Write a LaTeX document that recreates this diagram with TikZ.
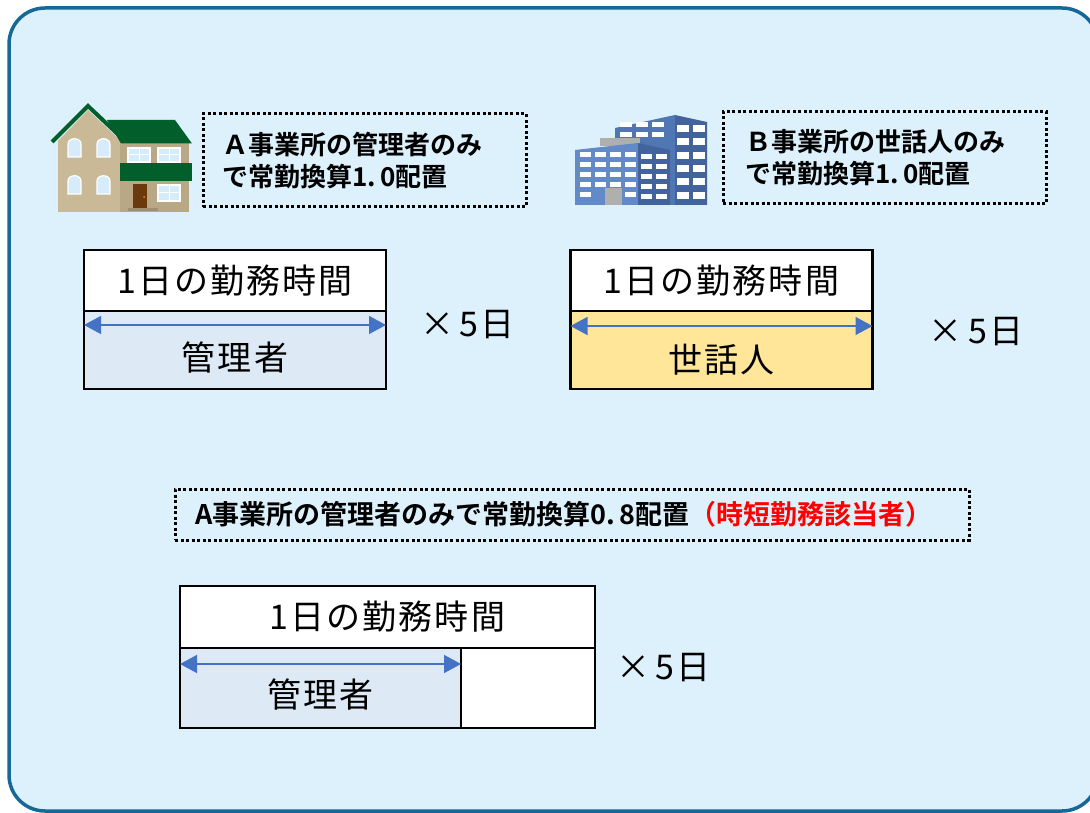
\documentclass[tikz,border=0pt]{standalone}
\usepackage{fontspec}
\setmainfont{Noto Sans CJK JP}[BoldFont={Noto Sans CJK JP Bold}]
\newfontfamily\boxfont{Noto Sans CJK JP}[LetterSpace=6]
\usepackage{xcolor}
\usetikzlibrary{arrows.meta, positioning}

\definecolor{panelfill}{RGB}{220,241,251}
\definecolor{panelline}{RGB}{22,104,150}
\definecolor{mgrfill}{RGB}{221,234,246}
\definecolor{carefill}{RGB}{255,230,153}
\definecolor{spanblue}{RGB}{68,114,196}
\definecolor{roofgreen}{RGB}{2,95,44}
\definecolor{walltan}{RGB}{201,185,150}
\definecolor{walldark}{RGB}{184,168,134}
\definecolor{glassblue}{RGB}{214,236,250}
\definecolor{doorbrown}{RGB}{106,58,14}
\definecolor{bldlight}{RGB}{98,138,200}
\definecolor{blddark}{RGB}{66,99,156}
\definecolor{bldback}{RGB}{80,118,180}
\definecolor{roofgray}{RGB}{175,175,175}

\tikzstyle{panel} = [draw=panelline, fill=panelfill, line width=3.5pt, rounded corners=36pt]
\tikzstyle{notebox} = [rectangle, draw=black, line width=3pt, dash pattern=on 3pt off 2.5pt, font=\bfseries\fontsize{26}{32}\selectfont, align=left]
\tikzstyle{daybox} = [rectangle, draw=black, line width=2.5pt, fill=white, outer sep=0pt, inner sep=0pt, font=\boxfont\fontsize{34}{40}\selectfont]
\tikzstyle{shiftbox} = [rectangle, draw=black, line width=2.5pt, outer sep=0pt, inner sep=0pt]
\tikzstyle{boxtext} = [font=\boxfont\fontsize{34}{40}\selectfont, inner sep=0pt]
\tikzstyle{spanarrow} = [line width=1.5pt, draw=spanblue, >={Triangle[length=17pt, width=18pt]}, <->]
\tikzstyle{pane} = [fill=glassblue, draw=white, line width=1.2pt]
\tikzstyle{bldwin} = [fill=white]

\begin{document}
\begin{tikzpicture}[x=1pt, y=-1pt]

\useasboundingbox (0,0) rectangle (1090,813);
\draw [panel] (9,8) rectangle (1098,811);

% house
\fill [walltan] (58,141) -- (88,110) -- (121,141) -- (121,212) -- (58,212) -- cycle;
\fill [walldark] (120,143) rectangle (189,212);
\fill [roofgreen] (107,120) -- (175,120) -- (192,143.5) -- (121,143.5) -- cycle;
\draw [roofgreen, line width=4pt] (52,142) -- (88,106) -- (125,141);
\fill [roofgreen] (120,163) rectangle (192,181);
\foreach \x in {68,97}
  \foreach \y in {138,175}
    \draw [pane] (\x,\y+19) -- (\x,\y+6) .. controls (\x,\y-1) and (\x+13,\y-1) .. (\x+13,\y+6) -- (\x+13,\y+19) -- cycle;
\foreach \x in {128,158} {
  \draw [pane] (\x,148) rectangle ++(22,14);
  \draw [white, line width=1pt] (\x+11,148) -- ++(0,14) (\x,155) -- ++(22,0);
}
\draw [pane] (158,185) rectangle ++(22,16);
\draw [white, line width=1pt] (169,185) -- ++(0,16) (158,193) -- ++(22,0);
\fill [doorbrown] (133,184) rectangle (147,208);
\fill [orange] (144,197) circle (1pt);
\fill [walldark!85!black] (128,208) rectangle (158,211);

% office buildings
\fill [bldback] (615,128) -- (675,115) -- (675,205) -- (615,205) -- cycle;
\fill [blddark] (675,115) -- (707,122) -- (707,205) -- (675,205) -- cycle;
\foreach \x in {620,636,652}
  \foreach \y in {122,132}
    \fill [bldwin] (\x,\y) rectangle ++(12,5);
\foreach \x in {677,693}
  \foreach \y in {125,138,152,165,178,192}
    \fill [bldwin] (\x,\y) rectangle ++(12,7);
\fill [roofgray] (600,138) rectangle (640,146);
\fill [bldlight] (575,150) -- (638,143) -- (638,205) -- (575,205) -- cycle;
\fill [blddark] (638,143) -- (670,150) -- (670,205) -- (638,205) -- cycle;
\foreach \x in {580,595,610,625}
  \foreach \y in {152,162,172,182}
    \fill [bldwin] (\x,\y) rectangle ++(11,5);
\foreach \x in {641,656}
  \foreach \y in {154,164,174,184,194}
    \fill [bldwin] (\x,\y) rectangle ++(11,5);
\foreach \x in {580,625}
  \fill [bldwin] (\x,192) rectangle ++(11,5);
\fill [roofgray] (605,188) rectangle (622,205);

% notes
\node (noteA) [notebox, minimum width=323pt, minimum height=93pt, text width=285pt, inner xsep=19pt] at (364.5,160.5) {Ａ事業所の管理者のみ\\で常勤換算1.\,0配置};
\node (noteB) [notebox, minimum width=323pt, minimum height=92pt, text width=279pt, inner xsep=22pt] at (884.5,158) {Ｂ事業所の世話人のみ\\で常勤換算1.\,0配置};
\node (noteC) [notebox, font=\bfseries\fontsize{27}{30}\selectfont, minimum width=794pt, minimum height=51pt, text width=754pt, inner xsep=20pt] at (572,514.5) {A事業所の管理者のみで常勤換算0.\,8配置{\color{red}（時短勤務該当者）}};

% A: manager full time
\node (dayA) [daybox, minimum width=302pt, minimum height=61pt] at (235,280.5) {1日の勤務時間};
\node (mgrA) [shiftbox, fill=mgrfill, minimum width=302pt, minimum height=78pt, below=0pt of dayA] {};
\node (mgrAtext) [boxtext] at ([yshift=-8pt]mgrA.center) {管理者};
\draw [spanarrow] ([yshift=-14pt]mgrA.north west) -- ([yshift=-14pt]mgrA.north east);
\node (timesA) [boxtext, anchor=west] at ([xshift=34pt,yshift=-14pt]mgrA.north east) {×\,5日};

% B: caretaker full time
\node (dayB) [daybox, minimum width=302pt, minimum height=61pt] at (721.5,280.5) {1日の勤務時間};
\node (careB) [shiftbox, fill=carefill, minimum width=302pt, minimum height=78pt, below=0pt of dayB] {};
\node (careBtext) [boxtext] at ([yshift=-10pt]careB.center) {世話人};
\draw [spanarrow] ([yshift=-15pt]careB.north west) -- ([yshift=-15pt]careB.north east);
\node (timesB) [boxtext, anchor=west] at ([xshift=56pt,yshift=-21pt]careB.north east) {×\,5日};

% A: manager short hours
\node (dayC) [daybox, minimum width=415pt, minimum height=62pt] at (387.5,617) {1日の勤務時間};
\node (mgrC) [shiftbox, fill=mgrfill, minimum width=281pt, minimum height=80pt, anchor=north west] at (dayC.south west) {};
\node (restC) [shiftbox, fill=white, minimum width=134pt, minimum height=80pt, right=0pt of mgrC] {};
\node (mgrCtext) [boxtext] at ([yshift=-7pt]mgrC.center) {管理者};
\draw [spanarrow] ([yshift=-16pt]mgrC.north west) -- ([yshift=-16pt]mgrC.north east);
\node (timesC) [boxtext, anchor=west] at ([xshift=21pt,yshift=-20pt]restC.north east) {×\,5日};

\end{tikzpicture}
\end{document}
